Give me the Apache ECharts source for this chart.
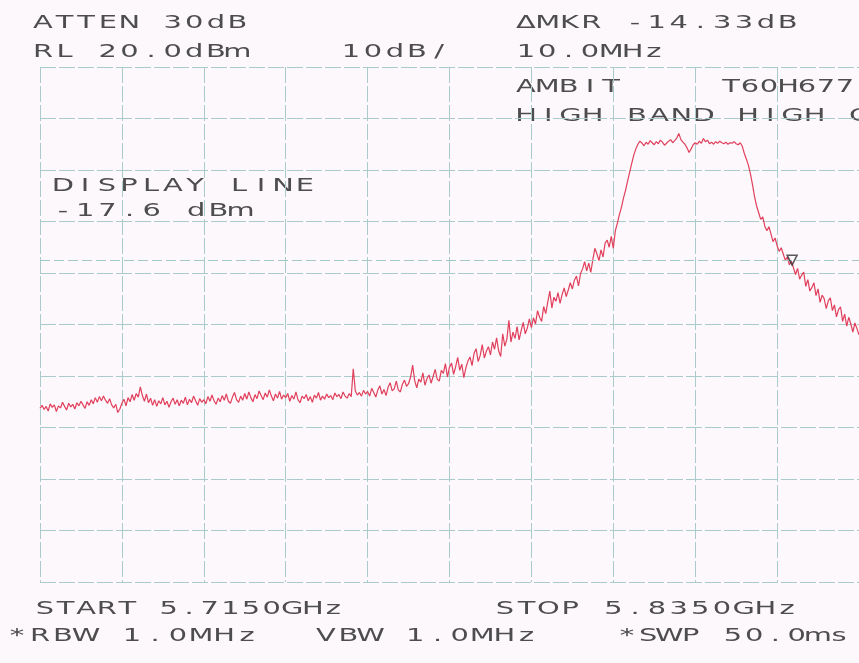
<!DOCTYPE html>
<html>
<head>
<meta charset="utf-8">
<script src="https://cdn.jsdelivr.net/npm/echarts@6.0.0/dist/echarts.min.js"></script>
<style>
html,body{margin:0;padding:0;background:#fdf8fc;}
#chart{width:859px;height:663px;}
</style>
</head>
<body>
<div id="chart"></div>
<script>
// ---- Instrument settings ----
const startGHz = 5.715;
const stopGHz = 5.835;
const spanMHz = 120;           // STOP - START
const refLevelDbm = 20;        // RL 20.0 dBm (top of screen)
const dbPerDiv = 10;           // 10 dB/div
const bottomDbm = -80;         // 10 divisions below RL
const freqDivMHz = 12;         // 10 horizontal divisions
const displayLineDbm = [-17.6];
const markerOffsetMHz = [110.2];
const markerDbm = [-17.5];

// ---- Trace amplitude (dBm), 401 sweep points across the span ----
const traceDbm = [
  -46.3,-45.7,-46.5,-45.9,-46.8,-45.4,-46.1,-45.6,-46.9,-45.8,
  -46.2,-45.1,-45.9,-46.6,-45.3,-46.0,-45.5,-46.4,-45.2,-45.8,
  -44.9,-45.6,-46.3,-45.0,-45.7,-44.6,-45.4,-44.2,-45.1,-44.0,
  -44.8,-43.9,-44.7,-45.3,-44.4,-45.6,-46.2,-45.5,-47.1,-46.4,
  -45.3,-44.5,-45.8,-44.2,-45.0,-43.6,-44.7,-43.4,-44.1,-42.1,
  -43.8,-44.9,-43.5,-45.2,-44.3,-45.7,-44.6,-45.9,-44.8,-45.4,
  -44.2,-45.6,-44.9,-46.1,-45.0,-44.3,-45.5,-44.6,-45.8,-44.7,
  -45.3,-44.1,-45.6,-44.5,-45.2,-43.9,-44.8,-45.7,-44.4,-45.1,
  -44.6,-45.4,-44.0,-44.9,-43.7,-44.8,-45.5,-44.3,-45.0,-43.8,
  -44.7,-43.5,-44.9,-45.3,-44.1,-43.2,-44.6,-45.1,-43.9,-44.7,
  -43.4,-44.5,-43.1,-44.2,-45.0,-43.6,-44.4,-42.9,-43.8,-44.6,
  -43.3,-44.1,-42.7,-43.9,-44.8,-43.5,-44.3,-43.0,-44.5,-43.7,
  -44.2,-43.4,-44.9,-43.8,-44.5,-43.1,-44.6,-45.2,-43.9,-44.4,
  -43.6,-44.8,-44.0,-45.1,-43.7,-44.3,-43.2,-44.7,-43.9,-44.5,
  -43.5,-44.2,-43.8,-44.6,-43.3,-44.0,-43.6,-44.4,-43.1,-43.9,
  -44.3,-43.4,-44.0,-38.6,-42.9,-43.7,-43.2,-43.9,-42.8,-43.5,
  -43.0,-43.9,-42.4,-43.2,-44.1,-42.7,-41.9,-43.5,-42.6,-43.8,
  -42.2,-41.3,-42.9,-42.5,-41.0,-42.7,-43.1,-41.6,-40.8,-42.0,
  -41.5,-40.2,-37.9,-40.9,-42.3,-40.6,-41.2,-39.4,-41.8,-40.5,
  -39.8,-41.4,-40.1,-38.7,-40.6,-41.0,-38.9,-39.5,-37.6,-40.2,
  -38.3,-37.5,-39.7,-38.2,-36.4,-38.9,-37.7,-40.3,-38.4,-37.1,
  -36.3,-38.0,-35.6,-34.7,-37.2,-36.0,-33.9,-36.5,-35.2,-34.3,
  -35.9,-33.4,-34.8,-32.6,-35.1,-36.2,-31.8,-34.2,-32.9,-29.2,
  -33.4,-31.5,-32.7,-30.4,-33.0,-31.2,-29.6,-31.8,-30.7,-28.9,
  -30.6,-28.7,-29.9,-27.3,-28.6,-29.4,-26.5,-27.9,-25.6,-23.5,
  -26.8,-24.7,-25.5,-23.8,-25.9,-24.2,-22.9,-24.6,-23.3,-21.9,
  -23.1,-21.4,-20.6,-22.5,-20.1,-19.2,-17.8,-19.6,-18.1,-19.9,
  -17.4,-15.2,-16.3,-17.6,-15.5,-16.9,-14.2,-13.6,-15.0,-12.9,
  -15.2,-11.8,-10.3,-8.6,-7.2,-5.4,-3.9,-2.1,-0.4,1.3,
  2.9,4.1,5.0,5.6,5.2,4.7,5.4,5.0,5.7,5.3,
  4.9,5.5,5.1,5.8,5.4,4.8,5.2,5.6,5.9,5.3,
  5.7,6.2,7.1,5.9,5.4,5.0,4.3,3.4,4.1,4.9,
  5.3,5.0,5.6,5.2,6.1,5.5,5.8,5.1,5.4,5.0,
  5.5,5.2,5.6,5.3,5.1,5.4,5.0,5.3,5.2,5.5,
  5.1,4.9,5.3,4.6,3.2,2.1,0.9,-0.8,-2.9,-5.2,
  -7.0,-8.3,-9.6,-9.1,-10.9,-11.8,-11.0,-12.4,-13.9,-13.2,
  -14.7,-15.8,-15.1,-16.3,-17.5,-16.9,-18.4,-17.7,-19.0,-20.3,
  -19.1,-21.2,-20.4,-19.8,-22.6,-21.3,-23.5,-22.8,-21.9,-24.4,
  -23.1,-25.7,-24.3,-25.0,-26.9,-25.4,-24.8,-27.3,-26.2,-28.5,
  -27.1,-26.6,-29.4,-28.0,-30.3,-28.6,-29.9,-31.5,-29.7,-30.8,
  -32.0
];

// ---- Screen annotations ----
const annTopLeft1 = 'ATTEN 30dB';
const annTopLeft2 = 'RL 20.0dBm';
const annScale = '10dB/';
const annMkr1 = 'ΔMKR -14.33dB';
const annMkr2 = '10.0MHz';
const annTitle1a = 'AMBIT';
const annTitle1b = 'T60H677';
const annTitle2 = 'HIGH BAND HIGH C';
const annDisp1 = 'DISPLAY LINE';
const annDisp2 = '-17.6 dBm';
const annStart = 'START 5.7150GHz';
const annStop = 'STOP 5.8350GHz';
const annRbw = '*RBW 1.0MHz';
const annVbw = 'VBW 1.0MHz';
const annSwp = '*SWP 50.0ms';

const nPts = traceDbm.length;
const traceData = traceDbm.map((v, i) => [i * spanMHz / (nPts - 1), v]);

const TEXT_COLOR = '#4d4d4d';
const GLYPH_W = 16;
// place each character on a plotter-style character cell grid
function charRow(str, x0, y, adv) {
  const els = [];
  for (let i = 0; i < str.length; i++) {
    const ch = str[i];
    if (ch === ' ') continue;
    els.push({
      type: 'text', silent: true,
      x: x0 + i * adv + GLYPH_W / 2, y: y,
      scaleX: 1.7, scaleY: 1,
      style: {
        text: ch,
        font: '17px "DejaVu Sans"',
        fill: TEXT_COLOR,
        textAlign: 'center', align: 'center',
        textVerticalAlign: 'middle', verticalAlign: 'middle'
      }
    });
  }
  return els;
}

const graphics = [].concat(
  charRow(annTopLeft1, 35, 24, 21.6),
  charRow(annTopLeft2, 35, 53, 21.6),
  charRow(annScale, 343, 53, 22),
  charRow(annMkr1, 518, 24, 21.8),
  charRow(annMkr2, 518, 53, 21.3),
  charRow(annTitle1a, 518, 88, 21.3),
  charRow(annTitle1b, 723, 88, 19),
  charRow(annTitle2, 518, 117, 22.2),
  charRow(annDisp1, 55, 187, 22),
  charRow(annDisp2, 55, 212, 22.2),
  charRow(annStart, 37, 610, 20.6),
  charRow(annStop, 497, 610, 21.7),
  charRow(annRbw, 9, 637, 23),
  charRow(annVbw, 318, 637, 22.3),
  charRow(annSwp, 619, 637, 21.2)
);

const gridLine = { show: true, lineStyle: { color: '#a9cbcb', width: 1, type: [16, 3] } };

const chart = echarts.init(document.getElementById('chart'), null, { renderer: 'canvas' });
chart.setOption({
  backgroundColor: '#fdf8fc',
  animation: false,
  grid: { left: 40, top: 67, width: 823, height: 515, containLabel: false },
  xAxis: {
    type: 'value', min: 0, max: spanMHz, interval: freqDivMHz,
    axisLine: { show: false }, axisTick: { show: false }, axisLabel: { show: false },
    splitLine: gridLine
  },
  yAxis: {
    type: 'value', min: bottomDbm, max: refLevelDbm, interval: dbPerDiv,
    axisLine: { show: false }, axisTick: { show: false }, axisLabel: { show: false },
    splitLine: gridLine
  },
  series: [
    {
      type: 'line', data: traceData, showSymbol: false, symbol: 'none',
      lineStyle: { color: '#e0405c', width: 1.2 },
      silent: true,
      markLine: {
        silent: true, symbol: 'none', label: { show: false },
        lineStyle: { color: '#a3c8c8', width: 1, type: [10, 4] },
        data: displayLineDbm.map(v => ({ yAxis: v }))
      }
    },
    {
      type: 'scatter', data: markerOffsetMHz.map((f, i) => [f, markerDbm[i]]),
      symbol: 'triangle', symbolRotate: 180, symbolSize: 10, symbolOffset: [0, 0],
      itemStyle: { color: 'rgba(0,0,0,0)', borderColor: '#2f2f2f', borderWidth: 1.5 },
      silent: true, z: 5
    }
  ],
  graphic: graphics
});
</script>
</body>
</html>
